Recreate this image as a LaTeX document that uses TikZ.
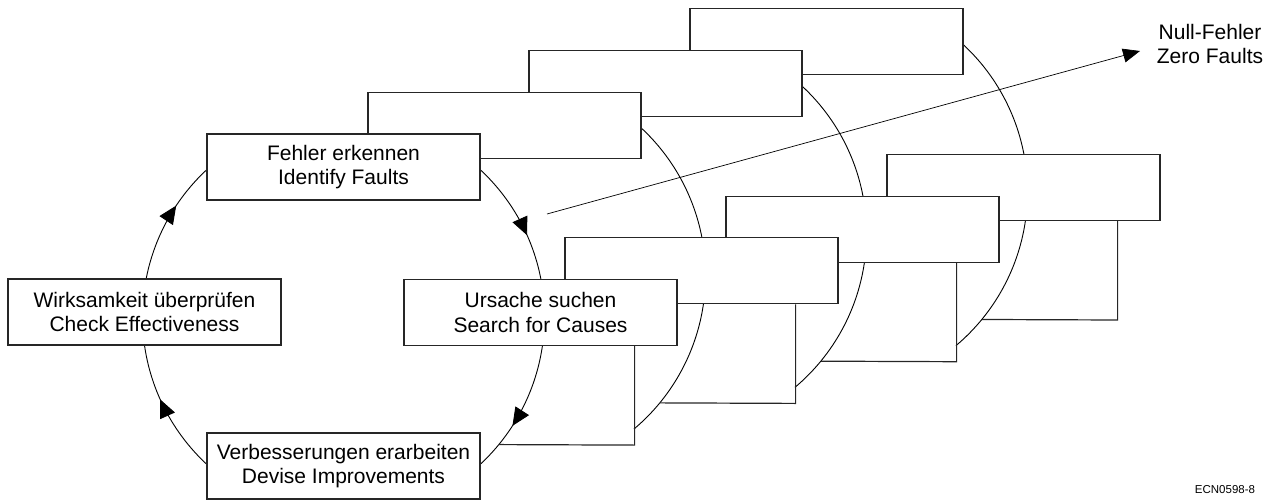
\documentclass[tikz,border=0pt]{standalone}
\usepackage{fontspec}
\setmainfont{Liberation Sans}
\usetikzlibrary{arrows.meta,calc,decorations.markings}

\tikzset{every picture/.style={line width=1pt}}
\tikzset{
  box/.style={draw=black!85, line width=1.2pt, fill=white, minimum width=273pt, minimum height=66pt,
    inner sep=0pt, align=center, font=\fontsize{21}{24.8}\selectfont},
  ring/.style={line width=0.9pt},
  ringarrow/.style={ring, postaction={decorate},
    decoration={markings, mark=at position #1 with {\arrow{Triangle[length=18pt,width=16pt]}}}},
  tailline/.style={draw=black!85, line width=1.2pt},
  sidetext/.style={inner sep=0pt, align=center, font=\fontsize{21}{24.8}\selectfont},
}

\begin{document}
\begin{tikzpicture}[x=1pt,y=1pt,yscale=-1]
\useasboundingbox (0,0) rectangle (1274,503);

%Ring centres
\coordinate (c0) at (343.5,317);
\coordinate (c1) at (504.5,275.3);
\coordinate (c2) at (665.5,233.6);
\coordinate (c3) at (826.5,191.9);

%Ring 3 (back)
\draw[ring] ($(c3)+(-50:201)$) arc[start angle=-50, end angle=-8, radius=201];
\draw[ring] ($(c3)+(7:201)$) arc[start angle=7, end angle=49.9, radius=201];
\node[box] (top3) at (826.5,41.9) {};
\node[box] (right3) at (1023.5,187.4) {};
\draw[tailline] ($(right3.south east)+(-43,0)$) -- ++(0,99) -- ($(c3)+(39.4:201)$);

%Ring 2
\draw[ring] ($(c2)+(-50:201)$) arc[start angle=-50, end angle=-8, radius=201];
\draw[ring] ($(c2)+(7:201)$) arc[start angle=7, end angle=49.9, radius=201];
\node[box] (top2) at (665.5,83.6) {};
\node[box] (right2) at (862.5,229.1) {};
\draw[tailline] ($(right2.south east)+(-43,0)$) -- ++(0,99) -- ($(c2)+(39.4:201)$);

%Ring 1
\draw[ring] ($(c1)+(-50:201)$) arc[start angle=-50, end angle=-8, radius=201];
\draw[ring] ($(c1)+(7:201)$) arc[start angle=7, end angle=49.9, radius=201];
\node[box] (top1) at (504.5,125.3) {};
\node[box] (right1) at (701.5,270.8) {};
\draw[tailline] ($(right1.south east)+(-43,0)$) -- ++(0,99) -- ($(c1)+(39.4:201)$);

%Ring 0 (front), clockwise
\draw[ringarrow=0.62] ($(c0)+(-50:201)$) arc[start angle=-50, end angle=-8, radius=201];
\draw[ringarrow=0.6] ($(c0)+(7:201)$) arc[start angle=7, end angle=50, radius=201];
\draw[ringarrow=0.6] ($(c0)+(130:201)$) arc[start angle=130, end angle=173, radius=201];
\draw[ringarrow=0.62] ($(c0)+(187:201)$) arc[start angle=187, end angle=230, radius=201];

% Text Node
\node[box] (erkennen) at (343.5,167) {Fehler erkennen\\Identify Faults};
% Text Node
\node[box] (ursache) at (540.5,312.5) {Ursache suchen\\Search for Causes};
\draw[tailline] ($(ursache.south east)+(-43,0)$) -- ++(0,99) -- ($(c0)+(39.4:201)$);
% Text Node
\node[box] (verbessern) at (343.5,466) {Verbesserungen erarbeiten\\Devise Improvements};
% Text Node
\node[box] (wirksam) at (144.5,312) {Wirksamkeit überprüfen\\Check Effectiveness};

%Trend arrow
\coordinate (trend) at (547,214);
\coordinate (goal) at (1140,51);
\draw[line width=0.7pt, -{Triangle[length=17pt,width=14pt]}] (trend) -- (goal);

% Text Node
\node[sidetext] (nullfehler) at (1210,44) {Null-Fehler\\Zero Faults};
% Text Node
\node[inner sep=0pt, font=\fontsize{11.5}{14}\selectfont] (ecn) at (1225,490) {ECN0598-8};

\end{tikzpicture}
\end{document}
